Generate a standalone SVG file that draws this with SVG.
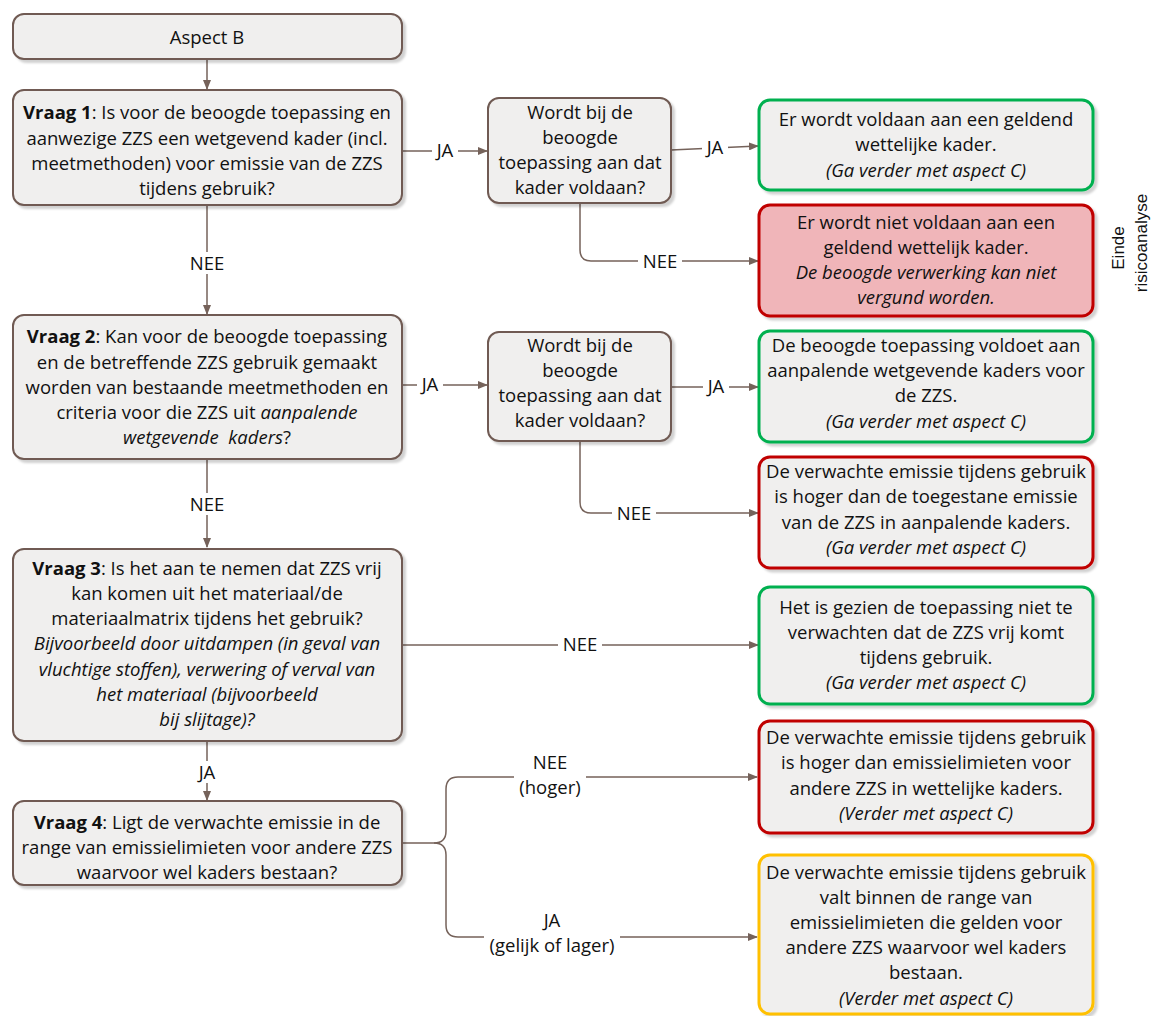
<svg xmlns="http://www.w3.org/2000/svg" width="1153" height="1016" viewBox="0 0 1153 1016">
<defs>
<filter id="sh" x="-5%" y="-5%" width="115%" height="120%">
<feDropShadow dx="3" dy="3" stdDeviation="1" flood-color="#000" flood-opacity="0.18"/>
</filter>
<marker id="ah" markerWidth="10" markerHeight="8" refX="9" refY="4" orient="auto" markerUnits="userSpaceOnUse">
<path d="M0,0 L10,4 L0,8 Z" fill="#75625a"/>
</marker>
</defs>
<style>
text{font-family:"Open Sans","Noto Sans",sans-serif;font-size:18.5px;fill:#111;text-anchor:middle}
.q{fill:#f0efee;stroke:#6f5a52;stroke-width:2;filter:url(#sh)}
.g{fill:#f0efee;stroke:#00b050;stroke-width:3;filter:url(#sh)}
.r{fill:#f0efee;stroke:#c00000;stroke-width:3;filter:url(#sh)}
.rp{fill:#f0b5b9;stroke:#c00000;stroke-width:3;filter:url(#sh)}
.y{fill:#f0efee;stroke:#ffc000;stroke-width:3;filter:url(#sh)}
.c{fill:none;stroke:#75625a;stroke-width:1.5}
.ca{fill:none;stroke:#75625a;stroke-width:1.5;marker-end:url(#ah)}
.lb{fill:#fff}
.i{font-style:italic}
.b{font-weight:bold}
.side{font-family:"Liberation Sans",Arial,sans-serif;font-size:17px}
</style>

<g id="connectors">
<path class="ca" d="M207,59 V89"/>
<path class="ca" d="M402,151 H487"/>
<path class="ca" d="M671,150 L758,146"/>
<path class="ca" d="M580,203 V250 Q580,261 591,261 H758"/>
<path class="ca" d="M207,205 V314"/>
<path class="ca" d="M402,385 H487"/>
<path class="ca" d="M671,387 H758"/>
<path class="ca" d="M580,441 V502 Q580,513 591,513 H758"/>
<path class="ca" d="M207,459 V547"/>
<path class="ca" d="M402,645 H758"/>
<path class="ca" d="M207,741 V800"/>
<path class="c" d="M402,843 H434 Q446,843 446,831"/>
<path class="ca" d="M446,831 V789 Q446,777 458,777 H757"/>
<path class="ca" d="M434,843 Q446,843 446,855 V925 Q446,937 458,937 H757"/>
<rect class="lb" x="432" y="140" width="26" height="22"/>
<rect class="lb" x="702" y="137" width="26" height="22"/>
<rect class="lb" x="638" y="250" width="44" height="22"/>
<rect class="lb" x="185" y="252" width="44" height="22"/>
<rect class="lb" x="417" y="374" width="26" height="22"/>
<rect class="lb" x="703" y="376" width="26" height="22"/>
<rect class="lb" x="612" y="502" width="44" height="22"/>
<rect class="lb" x="185" y="493" width="44" height="22"/>
<rect class="lb" x="558" y="634" width="44" height="22"/>
<rect class="lb" x="194" y="761" width="26" height="22"/>
<rect class="lb" x="514" y="751" width="72" height="48"/>
<rect class="lb" x="484" y="909" width="136" height="48"/>
<text x="445" y="157">JA</text>
<text x="715" y="154">JA</text>
<text x="660" y="268">NEE</text>
<text x="207" y="270">NEE</text>
<text x="430" y="391">JA</text>
<text x="716" y="393">JA</text>
<text x="634" y="520">NEE</text>
<text x="207" y="511">NEE</text>
<text x="580" y="651">NEE</text>
<text x="207" y="779">JA</text>
<text x="550" y="769">NEE</text>
<text x="550" y="794">(hoger)</text>
<text x="552" y="927">JA</text>
<text x="552" y="952">(gelijk of lager)</text>
</g>

<g id="aspectB">
<rect class="q" x="13" y="14" width="389" height="45" rx="11"/>
<text x="207" y="44">Aspect B</text>
</g>

<g id="vraag1">
<rect class="q" x="13" y="90" width="389" height="115" rx="11"/>
<text x="207" y="119"><tspan class="b">Vraag 1</tspan>: Is voor de beoogde toepassing en</text>
<text x="207" y="145">aanwezige ZZS een wetgevend kader (incl.</text>
<text x="207" y="170">meetmethoden) voor emissie van de ZZS</text>
<text x="207" y="195">tijdens gebruik?</text>
</g>

<g id="wordt1">
<rect class="q" x="488" y="98" width="183" height="105" rx="11"/>
<text x="580" y="119">Wordt bij de</text>
<text x="580" y="144">beoogde</text>
<text x="580" y="169">toepassing aan dat</text>
<text x="580" y="194">kader voldaan?</text>
</g>

<g id="groen1">
<rect class="g" x="759" y="100" width="334" height="90" rx="11"/>
<text x="926" y="126">Er wordt voldaan aan een geldend</text>
<text x="926" y="151">wettelijke kader.</text>
<text x="926" y="177" class="i">(Ga verder met aspect C)</text>
</g>

<g id="rood1">
<rect class="rp" x="759" y="205" width="334" height="111" rx="11"/>
<text x="926" y="229">Er wordt niet voldaan aan een</text>
<text x="926" y="254">geldend wettelijk kader.</text>
<text x="926" y="279" class="i">De beoogde verwerking kan niet</text>
<text x="926" y="304" class="i">vergund worden.</text>
</g>

<g id="einde">
<text class="side" transform="translate(1124,248) rotate(-90)">Einde</text>
<text class="side" transform="translate(1147,243) rotate(-90)">risicoanalyse</text>
</g>

<g id="vraag2">
<rect class="q" x="13" y="315" width="389" height="144" rx="11"/>
<text x="207" y="343"><tspan class="b">Vraag 2</tspan>: Kan voor de beoogde toepassing</text>
<text x="207" y="369">en de betreffende ZZS gebruik gemaakt</text>
<text x="207" y="394">worden van bestaande meetmethoden en</text>
<text x="207" y="419">criteria voor die ZZS uit <tspan class="i">aanpalende</tspan></text>
<text x="207" y="444" xml:space="preserve"><tspan class="i">wetgevende  kaders</tspan>?</text>
</g>

<g id="wordt2">
<rect class="q" x="488" y="332" width="183" height="109" rx="11"/>
<text x="580" y="352">Wordt bij de</text>
<text x="580" y="377">beoogde</text>
<text x="580" y="402">toepassing aan dat</text>
<text x="580" y="427">kader voldaan?</text>
</g>

<g id="groen2">
<rect class="g" x="759" y="331" width="334" height="111" rx="11"/>
<text x="926" y="352">De beoogde toepassing voldoet aan</text>
<text x="926" y="377">aanpalende wetgevende kaders voor</text>
<text x="926" y="402">de ZZS.</text>
<text x="926" y="428" class="i">(Ga verder met aspect C)</text>
</g>

<g id="rood2">
<rect class="r" x="759" y="457" width="334" height="111" rx="11"/>
<text x="926" y="478">De verwachte emissie tijdens gebruik</text>
<text x="926" y="503">is hoger dan de toegestane emissie</text>
<text x="926" y="529">van de ZZS in aanpalende kaders.</text>
<text x="926" y="554" class="i">(Ga verder met aspect C)</text>
</g>

<g id="vraag3">
<rect class="q" x="13" y="549" width="389" height="192" rx="11"/>
<text x="207" y="575"><tspan class="b">Vraag 3</tspan>: Is het aan te nemen dat ZZS vrij</text>
<text x="207" y="600">kan komen uit het materiaal/de</text>
<text x="207" y="625">materiaalmatrix tijdens het gebruik?</text>
<text x="207" y="650" class="i">Bijvoorbeeld door uitdampen (in geval van</text>
<text x="207" y="676" class="i">vluchtige stoffen), verwering of verval van</text>
<text x="207" y="701" class="i">het materiaal (bijvoorbeeld</text>
<text x="207" y="726" class="i">bij slijtage)?</text>
</g>

<g id="groen3">
<rect class="g" x="759" y="587" width="334" height="117" rx="11"/>
<text x="926" y="614">Het is gezien de toepassing niet te</text>
<text x="926" y="639">verwachten dat de ZZS vrij komt</text>
<text x="926" y="664">tijdens gebruik.</text>
<text x="926" y="689" class="i">(Ga verder met aspect C)</text>
</g>

<g id="vraag4">
<rect class="q" x="13" y="801" width="389" height="84" rx="11"/>
<text x="207" y="829"><tspan class="b">Vraag 4</tspan>: Ligt de verwachte emissie in de</text>
<text x="207" y="854">range van emissielimieten voor andere ZZS</text>
<text x="207" y="879">waarvoor wel kaders bestaan?</text>
</g>

<g id="rood4">
<rect class="r" x="759" y="721" width="334" height="112" rx="11"/>
<text x="926" y="744">De verwachte emissie tijdens gebruik</text>
<text x="926" y="769">is hoger dan emissielimieten voor</text>
<text x="926" y="795">andere ZZS in wettelijke kaders.</text>
<text x="926" y="820" class="i">(Verder met aspect C)</text>
</g>

<g id="geel">
<rect class="y" x="759" y="855" width="334" height="159" rx="11"/>
<text x="926" y="879">De verwachte emissie tijdens gebruik</text>
<text x="926" y="904">valt binnen de range van</text>
<text x="926" y="929">emissielimieten die gelden voor</text>
<text x="926" y="954">andere ZZS waarvoor wel kaders</text>
<text x="926" y="979">bestaan.</text>
<text x="926" y="1005" class="i">(Verder met aspect C)</text>
</g>
</svg>
